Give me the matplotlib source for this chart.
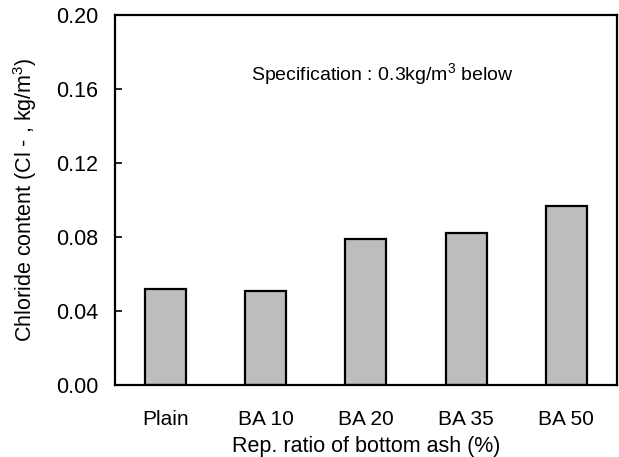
import matplotlib
matplotlib.use("Agg")
import matplotlib.pyplot as plt

plt.rcParams['font.family'] = ['Liberation Sans', 'DejaVu Sans']

# chloride content by bottom ash replacement ratio
categories = ['Plain', 'BA 10', 'BA 20', 'BA 35', 'BA 50']
chloride = [0.052, 0.051, 0.079, 0.082, 0.097]
yticks = [0.00, 0.04, 0.08, 0.12, 0.16, 0.20]

fig = plt.figure(figsize=(6.19, 4.57), dpi=100)
ax = fig.add_axes([0.186, 0.157, 0.810, 0.810])

x = range(len(categories))
ax.bar(x, chloride, width=0.41, color='#bdbdbd', edgecolor='black', linewidth=1.6)

ax.set_xlim(-0.5, len(categories) - 0.5)
ax.set_ylim(0, 0.2)
ax.set_xticks(list(x))
ax.set_xticklabels(categories, fontsize=15)
ax.set_yticks(yticks)
ax.set_yticklabels(['%.2f' % t for t in yticks], fontsize=15.5)
ax.tick_params(axis='x', length=0, pad=18)
ax.tick_params(axis='y', direction='in', length=5, width=1.2, pad=12)
for s in ax.spines.values():
    s.set_linewidth(1.6)

ax.set_xlabel('Rep. ratio of bottom ash (%)', fontsize=15.5, labelpad=5)
ax.set_ylabel(r'Chloride content (Cl - , kg/m$^{\mathregular{3}}$)', fontsize=15.5, labelpad=12)

ax.text(2.17, 0.168, r'Specification : 0.3kg/m$^{\mathregular{3}}$ below',
        ha='center', va='center', fontsize=14)

fig.savefig('out.png', dpi=100)
